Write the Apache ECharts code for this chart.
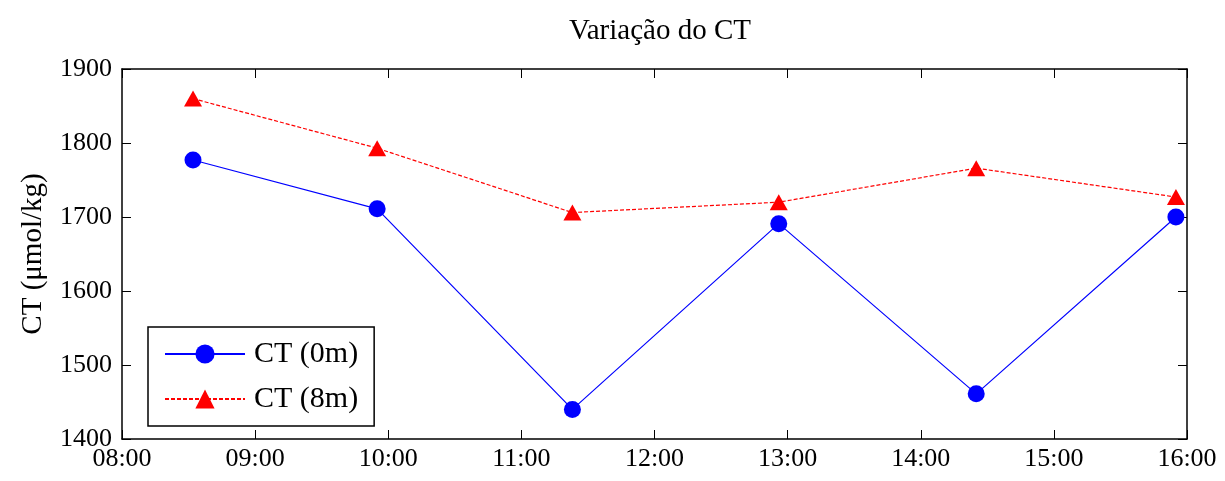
<!DOCTYPE html>
<html>
<head>
<meta charset="utf-8">
<script src="https://cdn.jsdelivr.net/npm/echarts@6/dist/echarts.min.js"></script>
<style>
html,body{margin:0;padding:0;background:#fff;}
#chart{width:1225px;height:481px;}
</style>
</head>
<body>
<div id="chart"></div>
<script>
// Data
var times = ["08:32", "09:55", "11:23", "12:56", "14:25", "15:55"];
var ct0m = [1777, 1711, 1440, 1691, 1461, 1700];
var ct8m = [1860, 1793, 1706, 1720, 1766, 1727];
var seriesNames = ["CT (0m)", "CT (8m)"];
var titleText = "Variação do CT";
var yAxisName = "CT (μmol/kg)";

function toMin(t){ var p = t.split(":"); return (+p[0])*60 + (+p[1]); }
function fmt(v){ var h = Math.floor(v/60), m = Math.round(v%60); return (h<10?"0":"")+h+":"+(m<10?"0":"")+m; }

var FONT = "Liberation Serif";
var chart = echarts.init(document.getElementById('chart'));
var tickStyle = {show:true, inside:true, length:9, lineStyle:{color:'#000', width:1}};
var axisLine = {show:true, lineStyle:{color:'#000', width:1.5}};

chart.setOption({
  animation:false,
  backgroundColor:'#fff',
  title:{text:titleText, left:655, textAlign:'center', top:12,
    textStyle:{fontFamily:FONT, fontSize:29, fontWeight:'normal', color:'#000'}},
  grid:{left:122, right:38, top:69, bottom:42, containLabel:false},
  legend:{
    left:148, top:327, orient:'vertical',
    backgroundColor:'#fff', borderColor:'#000', borderWidth:1.5,
    padding:[12, 16, 12, 16], itemGap:15,
    itemWidth:80, itemHeight:24,
    textStyle:{fontFamily:FONT, fontSize:30, color:'#000', padding:[0,0,0,4]},
    data:seriesNames
  },
  xAxis:[
    {type:'value', min:480, max:960, interval:60, position:'bottom',
     axisLine:axisLine, axisTick:tickStyle, splitLine:{show:false},
     axisLabel:{fontFamily:FONT, fontSize:26, color:'#000', margin:7, formatter:fmt}},
    {type:'value', min:480, max:960, interval:60, position:'top',
     axisLine:axisLine, axisTick:tickStyle, splitLine:{show:false}, axisLabel:{show:false}}
  ],
  yAxis:[
    {type:'value', min:1400, max:1900, interval:100, position:'left',
     name:yAxisName, nameLocation:'middle', nameGap:74, nameRotate:90,
     nameTextStyle:{fontFamily:FONT, fontSize:29, color:'#000'},
     axisLine:axisLine, axisTick:tickStyle, splitLine:{show:false},
     axisLabel:{fontFamily:FONT, fontSize:26, color:'#000', margin:10,
       formatter:function(v){return String(v);}}},
    {type:'value', min:1400, max:1900, interval:100, position:'right',
     axisLine:axisLine, axisTick:tickStyle, splitLine:{show:false}, axisLabel:{show:false}}
  ],
  series:[
    {name:seriesNames[0], type:'line', xAxisIndex:0, yAxisIndex:0,
     data:times.map(function(t,i){return [toMin(t), ct0m[i]];}),
     symbol:'circle', symbolSize:17,
     lineStyle:{color:'#0000ff', width:1.2},
     itemStyle:{color:'#0000ff'}},
    {name:seriesNames[1], type:'line', xAxisIndex:0, yAxisIndex:0,
     data:times.map(function(t,i){return [toMin(t), ct8m[i]];}),
     symbol:'triangle', symbolSize:[18,16],
     lineStyle:{color:'#ff0000', width:1.2, type:[4,2]},
     itemStyle:{color:'#ff0000'}}
  ]
});
</script>
</body>
</html>
